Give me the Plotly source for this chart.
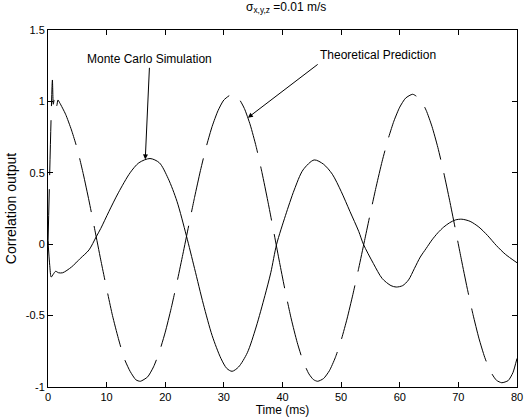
import plotly.graph_objects as go

# Monte Carlo simulation (solid)
mc_t = [0, 0.3, 0.55, 0.9, 1.3, 1.8, 2.5, 4, 5.5, 7, 8.2, 9, 10.4, 12, 14, 15.5, 17.4,
        19, 20.5, 22, 23.6, 25, 26.5, 28, 29.5, 30.5, 31.4, 32.5, 34, 35.5, 37, 38, 39,
        40.5, 42, 43.5, 45.4, 47, 48.5, 50, 51.5, 53, 53.8, 55.5, 57, 58.5, 59.4,
        60.5, 61.5, 62.5, 63.5, 64.5, 65.5, 66.5, 67.5, 68.5, 69.5, 70.6,
        72, 73.5, 75, 76.5, 78, 80]
mc_v = [0.02, -0.15, -0.23, -0.21, -0.19, -0.2, -0.2, -0.16, -0.1, -0.04, 0.05, 0.11, 0.23, 0.36, 0.5, 0.57, 0.6,
        0.57, 0.46, 0.3, 0.06, -0.17, -0.42, -0.64, -0.8, -0.87, -0.89, -0.86, -0.76, -0.58, -0.36, -0.2, 0.0,
        0.2, 0.38, 0.52, 0.59, 0.56, 0.49, 0.37, 0.23, 0.09, 0.0, -0.135, -0.24, -0.29, -0.3,
        -0.29, -0.25, -0.17, -0.09, -0.03, 0.03, 0.08, 0.12, 0.15, 0.17, 0.175,
        0.16, 0.12, 0.06, -0.01, -0.07, -0.13]

# Theoretical prediction (dashed)
th_t = [0, 0.75, 0.9, 1.05, 1.2, 1.35, 1.5, 1.7, 2, 3, 4, 5, 6, 7, 8, 9, 10, 11, 12, 13, 14, 15, 15.75,
        17, 18, 19, 20, 21, 22, 23, 24, 25, 26, 27, 28, 29, 30, 31.4,
        32.5, 33.5, 34.5, 35.5, 36.5, 37.5, 38.5, 39.5, 40.5, 41.5, 42.5, 43.5, 44.5, 45.3, 46,
        47, 48, 49, 50, 51, 52, 53, 54, 55, 56, 57, 58, 59, 60, 61, 62.2,
        63.5, 64.5, 65.5, 66.5, 67.5, 68.5, 69.5, 70.5, 71.5, 72.5, 73.5, 74.5, 75.5, 76.5, 77.4,
        78.5, 79.3, 80]
th_v = [0.0, 1.15, 0.98, 1.01, 0.99, 1.02, 0.97, 1.01, 0.99, 0.91, 0.8, 0.666, 0.495, 0.303, 0.098, -0.11, -0.31, -0.5, -0.66, -0.8, -0.89, -0.95, -0.96,
        -0.929, -0.859, -0.753, -0.616, -0.451, -0.267, -0.071, 0.13, 0.328, 0.515, 0.683, 0.825, 0.935, 1.01, 1.05,
        1.022, 0.95, 0.835, 0.684, 0.502, 0.301, 0.088, -0.128, -0.335, -0.524, -0.687, -0.818, -0.908, -0.949, -0.96,
        -0.941, -0.886, -0.795, -0.673, -0.524, -0.353, -0.168, 0.026, 0.22, 0.407, 0.581, 0.734, 0.862, 0.96, 1.023, 1.05,
        1.014, 0.938, 0.824, 0.677, 0.502, 0.308, 0.103, -0.105, -0.307, -0.493, -0.658, -0.793, -0.893, -0.953, -0.97,
        -0.955, -0.9, -0.8]

x_ticks = [0, 10, 20, 30, 40, 50, 60, 70, 80]
y_ticks = [-1, -0.5, 0, 0.5, 1, 1.5]
y_tick_labels = ["-1", "-0.5", "0", "0.5", "1", "1.5"]

FONT = "Liberation Sans, Arial, sans-serif"

fig = go.Figure()
fig.add_trace(go.Scatter(x=mc_t, y=mc_v, mode="lines", line=dict(color="black", width=1, shape="spline", smoothing=0.8),
                         showlegend=False, hoverinfo="skip"))
fig.add_trace(go.Scatter(x=th_t, y=th_v, mode="lines",
                         line=dict(color="black", width=1, dash="55px,14px", shape="spline", smoothing=0.6),
                         showlegend=False, hoverinfo="skip"))

# labelled arrows (text box anchored at arrow tail)
fig.add_annotation(x=16.59, y=0.594, ax=17.3, ay=1.235, xref="x", yref="y", axref="x", ayref="y",
                   text="Monte Carlo Simulation", xanchor="center", yanchor="bottom",
                   font=dict(family=FONT, size=12, color="black"),
                   showarrow=True, arrowhead=2, arrowsize=1, arrowwidth=1, arrowcolor="black", standoff=0)
fig.add_annotation(x=34.1, y=0.886, ax=46.0, ay=1.259, xref="x", yref="y", axref="x", ayref="y",
                   text="Theoretical Prediction", xanchor="left", yanchor="bottom",
                   font=dict(family=FONT, size=12, color="black"),
                   showarrow=True, arrowhead=2, arrowsize=1, arrowwidth=1, arrowcolor="black", standoff=0)

fig.update_layout(
    width=530, height=419,
    margin=dict(l=48, r=7, t=30, b=32),
    paper_bgcolor="white", plot_bgcolor="white",
    font=dict(family=FONT, size=11, color="black"),
    title=dict(text="σ<sub>x,y,z</sub> =0.01 m/s", x=0.54, xanchor="center", y=0.995, yanchor="top",
               font=dict(family=FONT, size=12, color="black")),
)
fig.update_xaxes(range=[0, 80], tickvals=x_ticks, ticktext=[str(v) for v in x_ticks],
                 showline=True, linecolor="black", linewidth=1, mirror="ticks",
                 ticks="inside", ticklen=5, tickcolor="black", showgrid=False, zeroline=False,
                 ticklabeloverflow="allow",
                 title=dict(text="Time (ms)", font=dict(family=FONT, size=12), standoff=0),
                 tickfont=dict(family=FONT, size=11))
fig.update_yaxes(range=[-1, 1.5], tickvals=y_ticks, ticktext=y_tick_labels,
                 showline=True, linecolor="black", linewidth=1, mirror="ticks",
                 ticks="inside", ticklen=5, tickcolor="black", showgrid=False, zeroline=False,
                 title=dict(text="Correlation output", font=dict(family=FONT, size=14), standoff=5),
                 tickfont=dict(family=FONT, size=11))

fig.write_html("out.html")
